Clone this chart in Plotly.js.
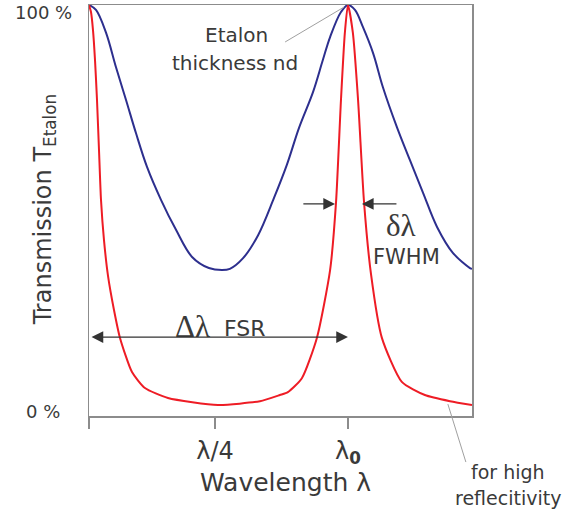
<!DOCTYPE html>
<html>
<head>
<meta charset="utf-8">
<script src="https://cdn.plot.ly/plotly-3.0.1.min.js"></script>
<style>html,body{margin:0;padding:0;background:#fff;}#chart{width:563px;height:513px;}</style>
</head>
<body>
<div id="chart"></div>
<script>
// Wavelength in units of the free spectral range (0 = left peak, 1 = λ0)
const lowRX = [0, 0.027, 0.066, 0.104, 0.143, 0.181, 0.224, 0.278, 0.336, 0.398, 0.463, 0.514, 0.544, 0.595, 0.653, 0.714, 0.764, 0.811, 0.865, 0.903, 0.931, 0.973, 1.000, 1.027, 1.058, 1.097, 1.135, 1.189, 1.239, 1.290, 1.344, 1.405, 1.471, 1.479];
const lowRT = [1.000, 0.988, 0.932, 0.849, 0.769, 0.689, 0.606, 0.526, 0.453, 0.387, 0.360, 0.355, 0.358, 0.384, 0.440, 0.530, 0.611, 0.701, 0.788, 0.866, 0.922, 0.983, 1.000, 0.988, 0.946, 0.883, 0.800, 0.703, 0.623, 0.543, 0.460, 0.397, 0.360, 0.358];
const highRX = [0, 0.0077, 0.0154, 0.0232, 0.0309, 0.0386, 0.0463, 0.0579, 0.0734, 0.0965, 0.1197, 0.166, 0.216, 0.305, 0.498, 0.660, 0.737, 0.768, 0.822, 0.880, 0.931, 0.954, 0.973, 0.988, 1.000, 1.019, 1.039, 1.062, 1.089, 1.131, 1.208, 1.297, 1.394, 1.479];
const highRT = [1.000, 0.983, 0.939, 0.866, 0.769, 0.647, 0.526, 0.428, 0.341, 0.258, 0.190, 0.107, 0.068, 0.044, 0.027, 0.036, 0.051, 0.058, 0.092, 0.190, 0.355, 0.521, 0.769, 0.932, 1.000, 0.932, 0.769, 0.521, 0.345, 0.190, 0.083, 0.051, 0.036, 0.027];
const xTickVals = [0, 0.4865, 1];
const xTickText = ['', 'λ/4', 'λ<sub><b>0</b></sub>'];
const yLabels = ['100 %', '0 %'];

const FONT = 'DejaVu Sans, Arial, sans-serif';
const SERIF = 'Liberation Serif, Times New Roman, serif';
const TXT = '#3a3a3a';
const GRAY = '#8c8c8c';

const traces = [
  {x: lowRX, y: lowRT, mode: 'lines', line: {color: '#2d2f8e', width: 2, shape: 'spline', smoothing: 1}, hoverinfo: 'skip', cliponaxis: true},
  {x: highRX, y: highRT, mode: 'lines', line: {color: '#ee1c25', width: 2, shape: 'spline', smoothing: 0.6}, hoverinfo: 'skip', cliponaxis: true}
];

function txt(text, x, y, size, font, extra) {
  return Object.assign({xref: 'paper', yref: 'paper', x: x, y: y, text: text, showarrow: false,
    xanchor: 'center', yanchor: 'middle', font: {family: font || FONT, size: size, color: TXT}}, extra || {});
}
function arrow(x, y, ax, ay, both) {
  return {xref: 'x', yref: 'y', axref: 'x', ayref: 'y', x: x, y: y, ax: ax, ay: ay, text: '',
    showarrow: true, arrowhead: 2, arrowsize: 1.8, arrowwidth: 1.3, arrowcolor: '#333',
    arrowside: both ? 'end+start' : 'end', standoff: 0, startstandoff: 0};
}

const annotations = [
  txt(yLabels[0], -0.120, 0.981, 18),
  txt(yLabels[1], -0.120, 0.012, 18),
  txt('Transmission T<sub>Etalon</sub>', -0.117, 0.501, 24, FONT, {textangle: -90}),
  txt('Wavelength λ', 0.514, -0.161, 25),
  txt('Etalon', 0.386, 0.927, 20),
  txt('thickness nd', 0.381, 0.859, 20),
  txt('δλ', 0.814, 0.463, 31, SERIF),
  txt('FWHM', 0.830, 0.387, 21),
  txt('Δλ', 0.269, 0.217, 31, SERIF),
  txt('FSR', 0.407, 0.212, 22),
  txt('for high', 1.094, -0.136, 19),
  txt('reflecitivity', 1.094, -0.200, 19),
  arrow(1.0, 0.192, 0.004, 0.192, true),
  arrow(0.950, 0.516, 0.822, 0.516, false),
  arrow(1.054, 0.516, 1.193, 0.516, false)
];

const shapes = [
  {type: 'line', xref: 'paper', yref: 'paper', x0: 0.512, y0: 0.910, x1: 0.666, y1: 0.995, line: {color: '#a0a0a0', width: 1}},
  {type: 'line', xref: 'paper', yref: 'paper', x0: 0.937, y0: 0.029, x1: 0.984, y1: -0.112, line: {color: '#a0a0a0', width: 1}}
];

const layout = {
  width: 563, height: 513,
  margin: {l: 89, r: 91, t: 5, b: 97, pad: 0},
  paper_bgcolor: '#ffffff', plot_bgcolor: '#ffffff',
  showlegend: false,
  font: {family: FONT, color: TXT},
  xaxis: {range: [0, 1.479], showgrid: false, zeroline: false, showline: true, mirror: true,
    linecolor: GRAY, linewidth: 1.5, ticks: 'outside', ticklen: 11, tickwidth: 1.3, tickcolor: GRAY,
    tickmode: 'array', tickvals: xTickVals, ticktext: xTickText, tickfont: {family: FONT, size: 24, color: TXT},
    ticklabelstandoff: 2, fixedrange: true},
  yaxis: {range: [0, 1], showgrid: false, zeroline: false, showline: true, mirror: true,
    linecolor: GRAY, linewidth: 1.5, ticks: '', showticklabels: false, fixedrange: true},
  annotations: annotations,
  shapes: shapes
};

Plotly.newPlot('chart', traces, layout, {staticPlot: true, displayModeBar: false});
</script>
</body>
</html>
